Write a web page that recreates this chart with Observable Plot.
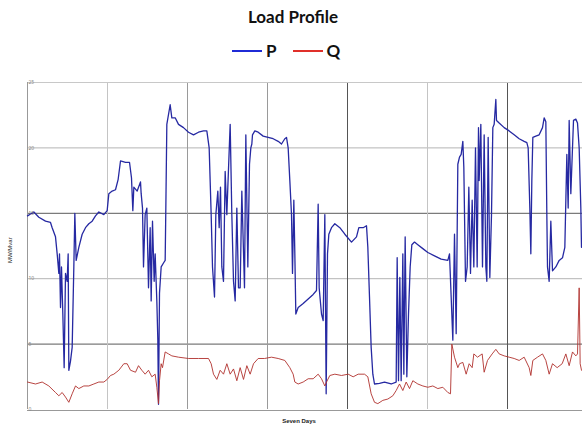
<!DOCTYPE html>
<html>
<head>
<meta charset="utf-8">
<script src="https://cdn.jsdelivr.net/npm/d3@7"></script>
<script src="https://cdn.jsdelivr.net/npm/@observablehq/plot@0.6"></script>
<style>
  html, body { margin: 0; padding: 0; background: #fff; }
  body { width: 582px; height: 428px; overflow: hidden; position: relative; font-family: Lato, "Open Sans", sans-serif; }
  #title { position: absolute; top: 6px; left: 0; width: 586px; text-align: center; font-weight: 700; font-size: 17px; color: #111; }
  #legend { position: absolute; top: 40px; left: 232px; display: flex; align-items: center; font-weight: 700; font-size: 17px; color: #111; }
  #legend .sw { display: inline-block; width: 30px; height: 2px; margin-right: 4px; }
  #legend .item { display: flex; align-items: center; margin-right: 16px; }
  #chart { position: absolute; top: 64px; left: 0; }
</style>
</head>
<body>
<div id="title">Load Profile</div>
<div id="legend"></div>
<div id="chart"></div>
<script>
const seriesNames = ["P", "Q"];
const seriesColors = ["#2629a2", "#b0302c"];
const yTicks = [0, 5, 10, 15, 20, 25];
const dayGrid = [24, 48, 72, 96, 120, 144];
const xTitle = "Seven Days";
const yTitle = "MW/Mvar";

// [hour, value]
const pPoints = [[0,14.8],[1.9,15.1],[3.4,14.7],[5.4,14.4],[6.9,14.3],[7.4,13.9],[8.4,13.2],[8.9,11.9],[9.4,10.4],[9.6,11.9],[9.9,7.8],[10.2,10.9],[10.6,7.3],[11.0,3.2],[11.4,10.4],[11.9,9.8],[12.2,11.9],[12.4,3.0],[12.9,3.7],[13.4,4.75],[13.9,10.9],[14.2,15.0],[14.6,11.4],[15.4,12.4],[16.4,13.4],[17.4,13.9],[18.4,14.2],[19.4,14.4],[20.4,14.8],[21.4,15.1],[22.9,14.9],[23.9,15.2],[24.4,16.5],[25.4,16.7],[26.4,16.8],[27.2,17.6],[27.9,19.0],[29.4,18.9],[30.6,18.9],[31.2,17.7],[31.6,15.2],[31.9,17.0],[32.9,16.7],[33.9,17.4],[34.1,16.5],[34.5,15.4],[34.8,10.9],[35.3,14.9],[35.8,15.4],[36.3,9.3],[36.8,13.9],[37.1,8.3],[37.5,14.4],[38.0,9.8],[38.3,11.9],[38.8,8.3],[39.1,5.3],[39.3,0.4],[39.6,8.9],[40.1,10.9],[40.8,11.2],[41.3,11.4],[41.5,15.4],[41.8,21.8],[42.8,23.3],[43.3,22.3],[44.3,22.3],[45.3,21.8],[46.8,21.55],[48.3,21.2],[49.8,21.0],[51.3,21.2],[52.8,21.3],[53.8,21.3],[54.5,20.0],[55.1,14.9],[55.5,10.9],[56.1,8.6],[56.5,14.9],[57.1,16.7],[57.5,13.9],[57.9,17.0],[58.3,10.9],[58.8,9.8],[59.3,18.2],[59.8,14.9],[60.1,17.0],[60.8,21.8],[61.3,14.9],[61.8,9.8],[62.3,8.3],[62.8,15.4],[63.3,9.3],[63.8,9.3],[64.3,16.7],[65.1,9.3],[65.5,21.0],[66.1,10.9],[66.6,18.75],[67.0,20.0],[67.3,20.3],[67.5,21.0],[68.2,21.3],[69.2,21.2],[70.7,20.9],[72.2,20.8],[73.7,20.7],[75.2,20.5],[76.2,20.3],[77.2,20.7],[77.7,20.8],[78.2,20.0],[78.7,17.5],[79.2,14.9],[79.5,10.4],[79.9,16.0],[80.2,11.9],[80.5,7.3],[81.2,7.8],[82.7,8.1],[84.2,8.45],[85.7,8.8],[86.7,9.1],[87.2,15.7],[87.5,9.3],[88.2,7.3],[88.7,6.8],[89.2,14.9],[89.6,1.2],[90.0,11.9],[90.4,13.4],[91.2,13.9],[92.2,14.2],[93.7,13.9],[95.2,13.4],[97.2,12.8],[98.7,13.2],[99.4,13.9],[100.7,13.9],[101.7,14.05],[102.1,12.4],[102.6,8.6],[103.1,4.75],[103.6,2.7],[104.1,1.95],[105.6,2.0],[107.1,2.1],[109.1,1.95],[110.6,2.1],[110.9,11.6],[111.3,2.2],[111.7,10.1],[112.1,2.2],[112.6,11.9],[112.9,2.7],[113.3,13.2],[113.8,2.5],[114.3,7.3],[114.8,10.9],[115.3,12.6],[116.1,12.8],[117.1,12.6],[118.6,12.3],[120.1,12.0],[122.1,11.75],[124.1,11.5],[126.1,11.4],[126.6,11.9],[127.1,8.6],[127.6,5.3],[128.1,13.4],[128.6,5.8],[129.1,18.75],[129.6,19.3],[130.1,19.5],[130.6,20.5],[130.9,18.5],[131.4,9.8],[131.9,10.9],[132.4,17.0],[132.9,10.4],[133.4,16.0],[133.9,10.9],[134.4,20.0],[134.9,10.9],[135.3,21.55],[135.5,17.5],[136.0,21.8],[136.5,10.9],[137.0,21.0],[137.5,10.9],[137.8,9.8],[138.2,20.8],[138.7,10.1],[139.2,14.9],[139.6,21.55],[140.0,21.8],[140.5,23.7],[140.7,22.1],[141.5,21.9],[143.0,21.55],[144.5,21.3],[146.0,21.0],[147.5,20.7],[149.0,20.5],[149.8,20.4],[150.2,20.0],[150.7,15.4],[151.0,11.9],[151.3,17.5],[151.6,20.8],[152.5,20.9],[153.5,21.0],[154.5,21.55],[155.0,22.3],[155.5,22.0],[155.8,14.9],[156.0,10.9],[156.5,9.8],[157.0,14.4],[157.5,10.6],[158.5,10.9],[159.5,11.4],[160.5,11.6],[161.2,12.4],[161.8,19.5],[162.2,15.4],[162.5,22.1],[163.0,16.5],[163.8,22.1],[164.5,22.2],[165.0,21.9],[165.5,20.0],[166.0,15.4],[166.2,12.4]];

const qPoints = [[0,2.1],[2.4,1.95],[4.4,2.1],[6.4,1.8],[8.4,1.3],[9.4,1.05],[10.4,1.3],[11.4,0.95],[12.4,0.55],[13.4,1.2],[14.4,1.8],[15.4,1.6],[16.9,1.8],[18.4,1.8],[19.9,1.95],[21.4,2.1],[22.9,2.1],[23.9,2.3],[24.9,2.6],[25.9,2.7],[27.4,3.0],[28.9,3.5],[29.9,3.5],[30.9,3.0],[32.4,2.85],[33.3,3.35],[34.3,3.0],[35.3,2.7],[36.3,3.0],[37.3,2.5],[38.3,2.7],[38.8,1.7],[39.3,0.45],[39.6,2.2],[40.1,3.5],[40.5,3.2],[41.3,4.4],[42.3,4.25],[43.3,4.1],[45.3,4.0],[48.3,3.9],[51.3,3.9],[54.3,3.9],[55.1,3.5],[55.8,2.7],[56.8,2.3],[57.8,3.0],[58.8,2.7],[59.8,3.5],[60.8,2.7],[61.8,3.1],[62.8,2.2],[63.8,3.2],[64.8,2.3],[65.8,3.35],[66.8,2.7],[67.8,3.5],[69.2,3.9],[71.1,3.9],[73.2,4.0],[75.2,3.9],[77.2,3.75],[78.7,3.2],[79.7,2.7],[80.2,2.1],[81.2,1.95],[82.7,2.1],[84.2,2.35],[85.7,2.35],[87.2,2.7],[88.2,2.35],[89.2,1.8],[89.7,2.1],[90.7,2.6],[92.2,2.7],[94.2,2.6],[96.2,2.7],[97.7,2.5],[99.2,2.7],[101.1,2.7],[102.1,2.5],[103.1,1.2],[104.1,0.55],[105.1,0.45],[106.6,0.7],[108.1,0.8],[109.6,1.05],[110.6,1.45],[111.6,1.95],[112.6,1.45],[113.6,2.1],[114.6,1.6],[115.6,2.2],[117.1,1.95],[118.6,1.8],[120.1,1.7],[121.6,1.8],[123.1,1.6],[124.6,1.7],[126.1,1.3],[126.9,1.2],[127.3,5.0],[128.1,4.0],[129.1,3.2],[129.6,3.5],[130.6,3.6],[131.6,2.7],[132.5,3.5],[133.4,3.2],[133.9,4.25],[135.0,4.0],[136.4,4.25],[137.0,2.85],[138.0,3.75],[139.4,4.25],[140.5,4.6],[141.5,4.25],[143.0,4.1],[144.5,4.0],[146.0,3.9],[147.5,3.75],[149.0,4.0],[150.5,3.2],[151.0,2.6],[151.6,3.75],[153.0,4.0],[154.5,4.25],[155.5,3.75],[156.5,2.7],[157.5,3.5],[158.9,3.2],[160.4,3.5],[161.5,4.25],[162.5,3.35],[163.5,4.4],[164.5,4.1],[165.0,4.25],[165.5,9.3],[165.8,3.5],[166.2,3.0]];

// legend
const legend = document.getElementById("legend");
seriesNames.forEach((name, i) => {
  const item = document.createElement("div");
  item.className = "item";
  const sw = document.createElement("span");
  sw.className = "sw";
  sw.style.background = i === 0 ? "#1f2bd6" : "#e0302a";
  item.appendChild(sw);
  item.appendChild(document.createTextNode(name));
  legend.appendChild(item);
});

const pData = pPoints.map(([h, v]) => ({h, v}));
const qData = qPoints.map(([h, v]) => ({h, v}));

const hColor = d => (d === 15 || d === 5) ? "#5a5a5a" : "#b4b4b4";
const vColor = d => (d === 96 || d === 144) ? "#555" : (d === 24 || d === 120) ? "#c4c4c4" : "#9a9a9a";

const chart = Plot.plot({
  width: 582,
  height: 364,
  marginLeft: 27,
  marginRight: 0,
  marginTop: 18,
  marginBottom: 19,
  x: {domain: [0, 166.5], axis: null},
  y: {domain: [0, 25], axis: null},
  style: {background: "transparent"},
  marks: [
    Plot.ruleY([5, 10, 15, 20], {stroke: hColor, strokeWidth: 1}),
    Plot.ruleX(dayGrid, {stroke: vColor, strokeWidth: 1}),
    Plot.ruleY([25], {stroke: "#c8c8c8"}),
    Plot.ruleY([0], {stroke: "#999", dy: 1}),
    Plot.ruleX([0], {stroke: "#999"}),
    Plot.line(pData, {x: "h", y: "v", stroke: seriesColors[0], strokeWidth: 1.3}),
    Plot.line(qData, {x: "h", y: "v", stroke: seriesColors[1], strokeWidth: 0.9}),
    Plot.text(yTicks, {x: 0, y: d => d, text: d => String(d), textAnchor: "start", dx: 1, fontSize: 5, fill: "#8a8a8a"}),
    Plot.text([xTitle], {frameAnchor: "bottom", dy: 13, dx: -6, text: d => d, fontSize: 6, fontWeight: "bold", fill: "#222", fontFamily: "Liberation Sans, Arial, sans-serif"}),
    Plot.text([yTitle], {frameAnchor: "left", dx: -17, dy: 17, rotate: -90, text: d => d, fontSize: 6, fill: "#222", fontFamily: "Liberation Sans, Arial, sans-serif"})
  ]
});
document.getElementById("chart").appendChild(chart);
</script>
</body>
</html>
